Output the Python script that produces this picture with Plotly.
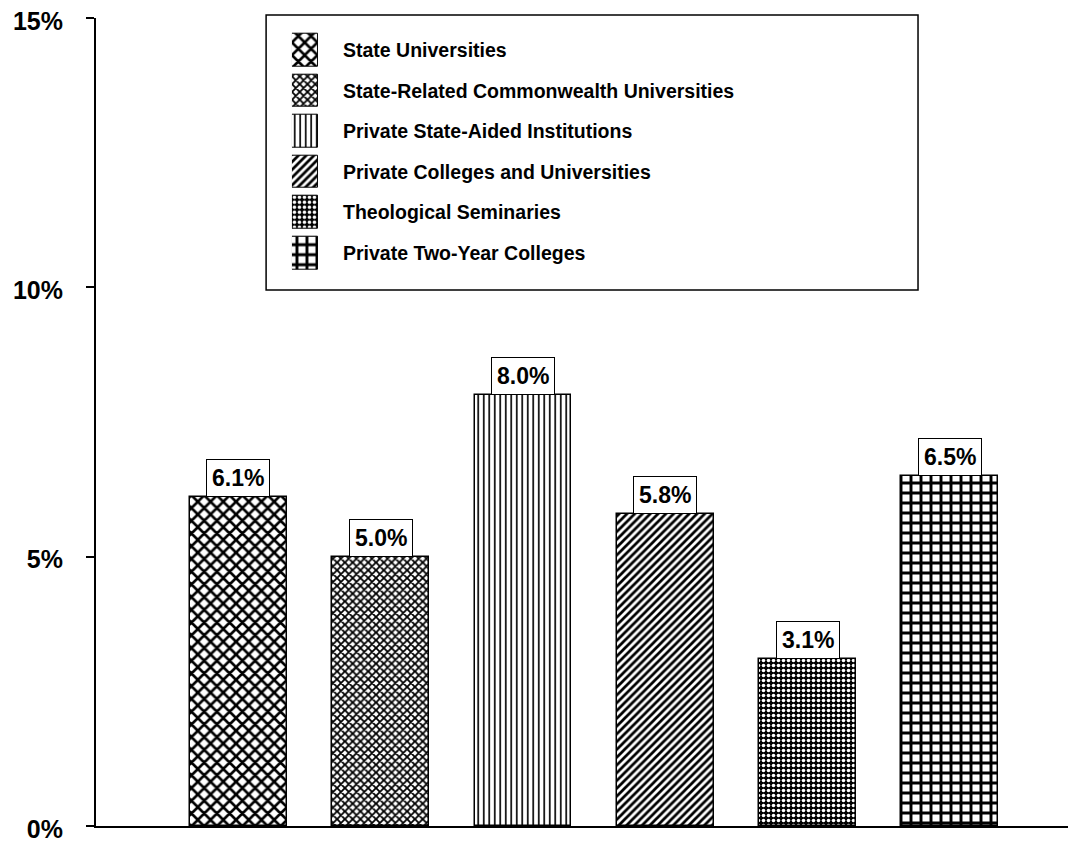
import plotly.graph_objects as go

categories = ["State Universities", "State-Related Commonwealth Universities",
              "Private State-Aided Institutions", "Private Colleges and Universities",
              "Theological Seminaries", "Private Two-Year Colleges"]
values = [6.1, 5.0, 8.0, 5.8, 3.1, 6.5]
value_labels = ["6.1%", "5.0%", "8.0%", "5.8%", "3.1%", "6.5%"]
y_ticks = [0, 5, 10, 15]
y_tick_labels = ["0%", "5%", "10%", "15%"]

patterns = [
    dict(shape="x", size=9, solidity=0.5, fgcolor="black", bgcolor="white", fgopacity=1),
    dict(shape="x", size=5.5, solidity=0.55, fgcolor="black", bgcolor="white", fgopacity=1),
    dict(shape="|", size=5.5, solidity=0.3, fgcolor="black", bgcolor="white", fgopacity=1),
    dict(shape="/", size=5.5, solidity=0.5, fgcolor="black", bgcolor="white", fgopacity=1),
    dict(shape=".", size=5, solidity=0.4, fgcolor="white", bgcolor="black", fgopacity=1),
    dict(shape="+", size=10, solidity=0.5, fgcolor="black", bgcolor="white", fgopacity=1),
]

FONT = "Liberation Sans, Arial, sans-serif"
fig = go.Figure()
idx = list(range(len(categories)))
for i, (c, v) in enumerate(zip(categories, values)):
    fig.add_trace(go.Bar(
        x=[idx[i]], y=[v], name=c, width=0.68,
        marker=dict(color="white", pattern=patterns[i], line=dict(color="black", width=1.5)),
        showlegend=False, hoverinfo="skip"))
    fig.add_trace(go.Bar(
        x=[1], y=[idx[i]], orientation="h", width=0.8, xaxis="x2", yaxis="y2",
        marker=dict(color="white", pattern=patterns[i], line=dict(color="black", width=1)),
        showlegend=False, hoverinfo="skip"))

annotations = []
for i, (v, t) in enumerate(zip(values, value_labels)):
    annotations.append(dict(x=idx[i], y=v, xref="x", yref="y", text="<b>%s</b>" % t, showarrow=False,
                            yanchor="bottom", xanchor="center",
                            font=dict(family=FONT, size=23, color="black"),
                            bgcolor="white", bordercolor="black", borderwidth=1, borderpad=5))
for i, c in enumerate(categories):
    annotations.append(dict(x=0.252, y=idx[i], xref="paper", yref="y2", text="<b>%s</b>" % c,
                            showarrow=False, xanchor="left", yanchor="middle",
                            font=dict(family=FONT, size=19.5, color="black")))

fig.update_layout(
    width=1074, height=835,
    margin=dict(l=88, r=14, t=10, b=17, autoexpand=False),
    paper_bgcolor="white", plot_bgcolor="white",
    font=dict(family=FONT, color="black"),
    xaxis=dict(range=[-1, 5.83], showticklabels=False, ticks="", showgrid=False, zeroline=False,
               showline=True, linecolor="black", linewidth=2, automargin=False),
    yaxis=dict(range=[0, 15], tickvals=y_ticks, ticktext=["<b>%s</b>" % s for s in y_tick_labels],
               ticks="outside", ticklen=8, tickcolor="black", tickwidth=1.5, showgrid=False,
               zeroline=False, showline=True, linecolor="black", linewidth=2, automargin=False,
               ticklabeloverflow="allow", ticklabelstandoff=18, ticklabelshift=3,
               tickfont=dict(family=FONT, size=25, color="black")),
    xaxis2=dict(domain=[0.2016, 0.2284], range=[0, 1], visible=False, anchor="y2"),
    yaxis2=dict(domain=[0.684, 0.9855], range=[5.5, -0.5], visible=False, anchor="x2"),
    annotations=annotations,
    shapes=[dict(type="rect", xref="paper", yref="paper", x0=0.175, x1=0.8457, y0=0.6634, y1=1.0037,
                 line=dict(color="black", width=1.5), fillcolor="rgba(0,0,0,0)", layer="below")],
    bargap=0,
)
fig.write_html("out.html")
